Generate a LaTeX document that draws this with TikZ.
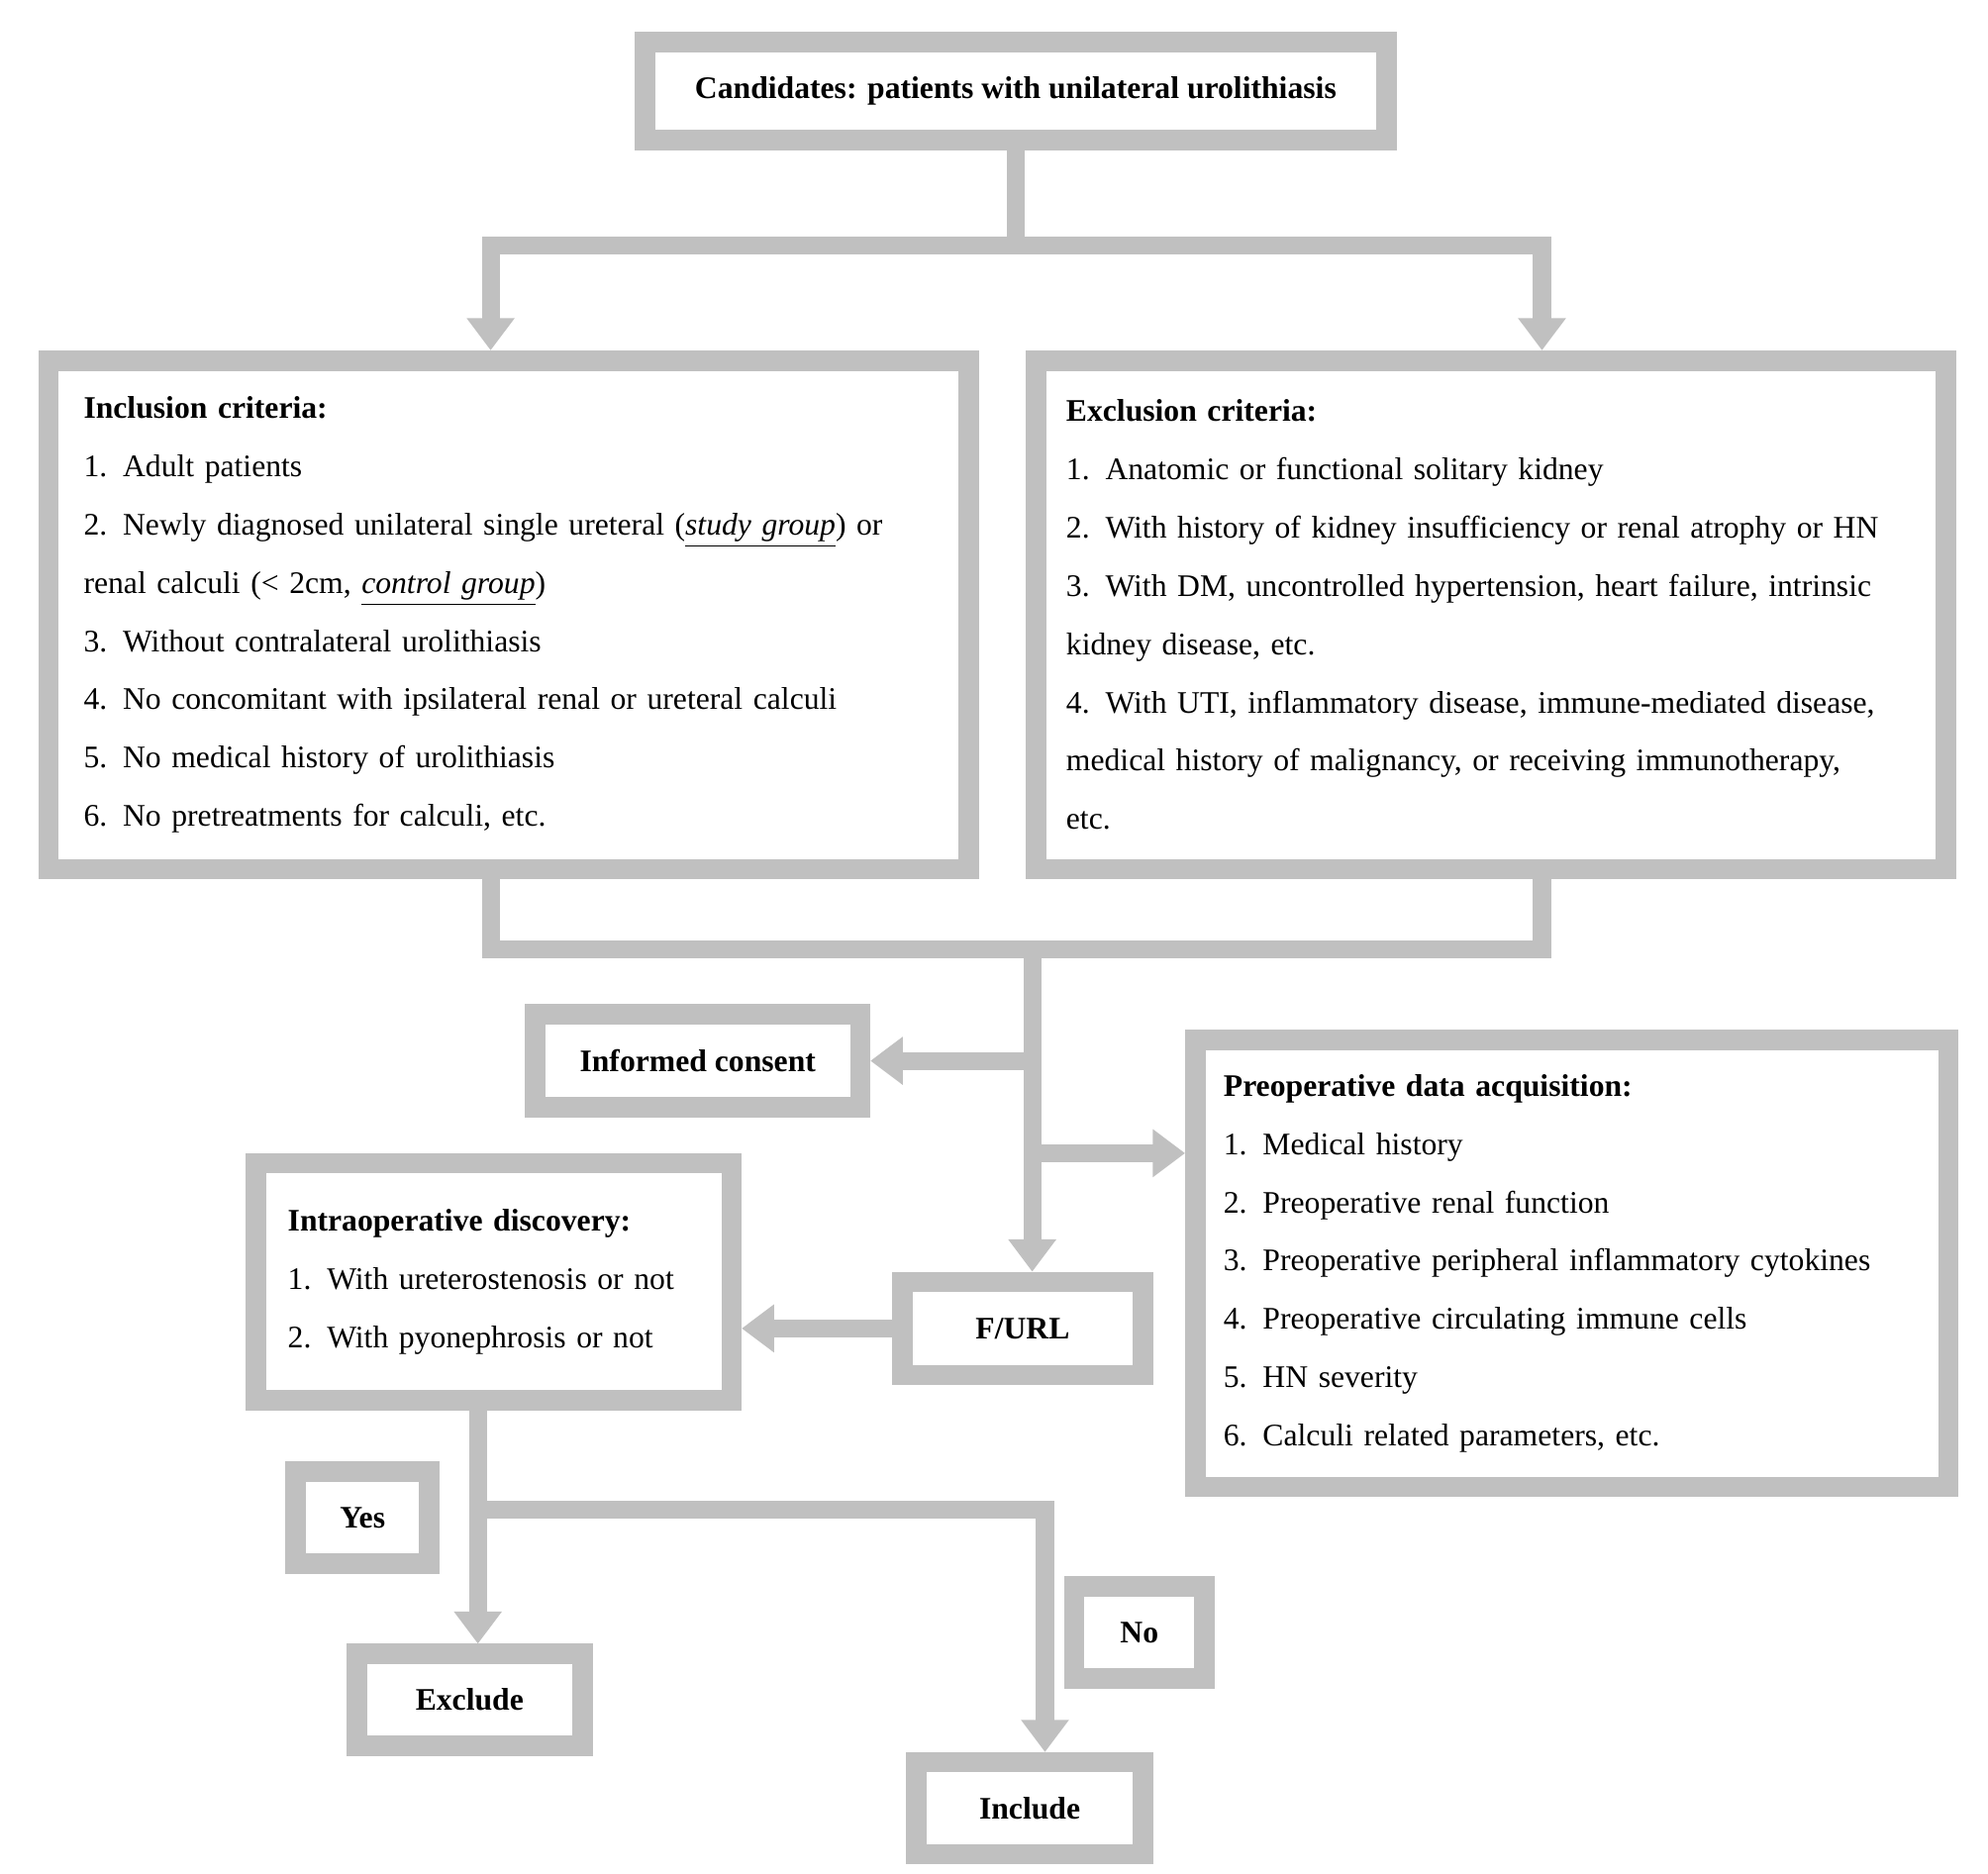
\documentclass[tikz,border=0pt]{standalone}
\usepackage{fontspec}
\setmainfont{Liberation Serif}
\usetikzlibrary{arrows.meta}
\definecolor{boxgray}{RGB}{192,192,192}
\tikzset{
  box/.style={draw=boxgray, line width=2.4mm, rectangle, align=left,
    font=\fontsize{10.5}{19.5}\selectfont},
  conn/.style={draw=boxgray, line width=2.1mm, line join=miter,
    -{Triangle[width=5.4mm,length=3.8mm]}},
  plain/.style={draw=boxgray, line width=2.1mm, line join=miter}
}
\begin{document}
\begin{tikzpicture}[x=0.15mm,y=-0.15mm]
\useasboundingbox (0,0) rectangle (1560,1470);

% boxes
\node[box, minimum width=87.3mm, minimum height=11.55mm] (top) at (797,71.5)
  {\textbf{Candidates: patients with unilateral urolithiasis}};
\node[box, minimum width=108.3mm, minimum height=59.85mm, text width=100mm] (incl) at (399,482.5)
  {\textbf{Inclusion criteria:}\\
   1. Adult patients\\
   2. Newly diagnosed unilateral single ureteral (\underline{\textit{study group}}) or\\
   renal calculi (< 2cm, \underline{\textit{control group}})\\
   3. Without contralateral urolithiasis\\
   4. No concomitant with ipsilateral renal or ureteral calculi\\
   5. No medical history of urolithiasis\\
   6. No pretreatments for calculi, etc.};
\node[box, minimum width=107.1mm, minimum height=59.85mm, text width=100mm] (excl) at (1170,482.5)
  {\textbf{Exclusion criteria:}\\
   1. Anatomic or functional solitary kidney\\
   2. With history of kidney insufficiency or renal atrophy or HN\\
   3. With DM, uncontrolled hypertension, heart failure, intrinsic\\
   kidney disease, etc.\\
   4. With UTI, inflammatory disease, immune-mediated disease,\\
   medical history of malignancy, or receiving immunotherapy,\\
   etc.};
\node[box, minimum width=38.25mm, minimum height=10.95mm] (consent) at (547.5,832.5)
  {\textbf{Informed consent}};
\node[box, minimum width=88.65mm, minimum height=52.65mm, text width=82mm] (preop) at (1233.5,991.5)
  {\textbf{Preoperative data acquisition:}\\
   1. Medical history\\
   2. Preoperative renal function\\
   3. Preoperative peripheral inflammatory cytokines\\
   4. Preoperative circulating immune cells\\
   5. HN severity\\
   6. Calculi related parameters, etc.};
\node[box, minimum width=28.35mm, minimum height=10.95mm] (furl) at (802.5,1042.5)
  {\textbf{F/URL}};
\node[box, minimum width=55.95mm, minimum height=27.9mm, text width=48.5mm] (intra) at (387.5,1006)
  {\textbf{Intraoperative discovery:}\\
   1. With ureterostenosis or not\\
   2. With pyonephrosis or not};
\node[box, minimum width=15.75mm, minimum height=10.8mm] (yes) at (284.5,1191) {\textbf{Yes}};
\node[box, minimum width=26.55mm, minimum height=10.8mm] (exclude) at (368.5,1334) {\textbf{Exclude}};
\node[box, minimum width=15.3mm, minimum height=10.8mm] (no) at (894,1281) {\textbf{No}};
\node[box, minimum width=26.7mm, minimum height=10.8mm] (include) at (808,1419) {\textbf{Include}};

% connectors
\coordinate (split) at (797,193);
\coordinate (jl) at (385,193);
\coordinate (jr) at (1210,193);
\draw[plain] (top.south) -- (split);
\draw[conn, {Triangle[width=5.4mm,length=3.8mm]}-{Triangle[width=5.4mm,length=3.8mm]}]
  (jl|-incl.north) -- (jl) -- (jr) -- (jr|-excl.north);

\coordinate (ml) at (385,745);
\coordinate (mr) at (1210,745);
\coordinate (mc) at (810,745);
\draw[plain] (ml|-incl.south) -- (ml) -- (mr) -- (mr|-excl.south);
\draw[conn] (mc) -- (mc|-furl.north);
\coordinate (tc) at (810,832.5);
\coordinate (tp) at (810,905);
\draw[conn] (tc) -- (consent.east);
\draw[conn] (tp) -- (tp-|preop.west);
\draw[conn] (furl.west) -- (furl.west-|intra.east);

\coordinate (dy) at (375,1185);
\coordinate (dn) at (820,1185);
\draw[plain] (dy|-intra.south) -- (dy);
\draw[conn] (dy) -- (dy|-exclude.north);
\draw[conn] (dy) -- (dn) -- (dn|-include.north);
\end{tikzpicture}
\end{document}
